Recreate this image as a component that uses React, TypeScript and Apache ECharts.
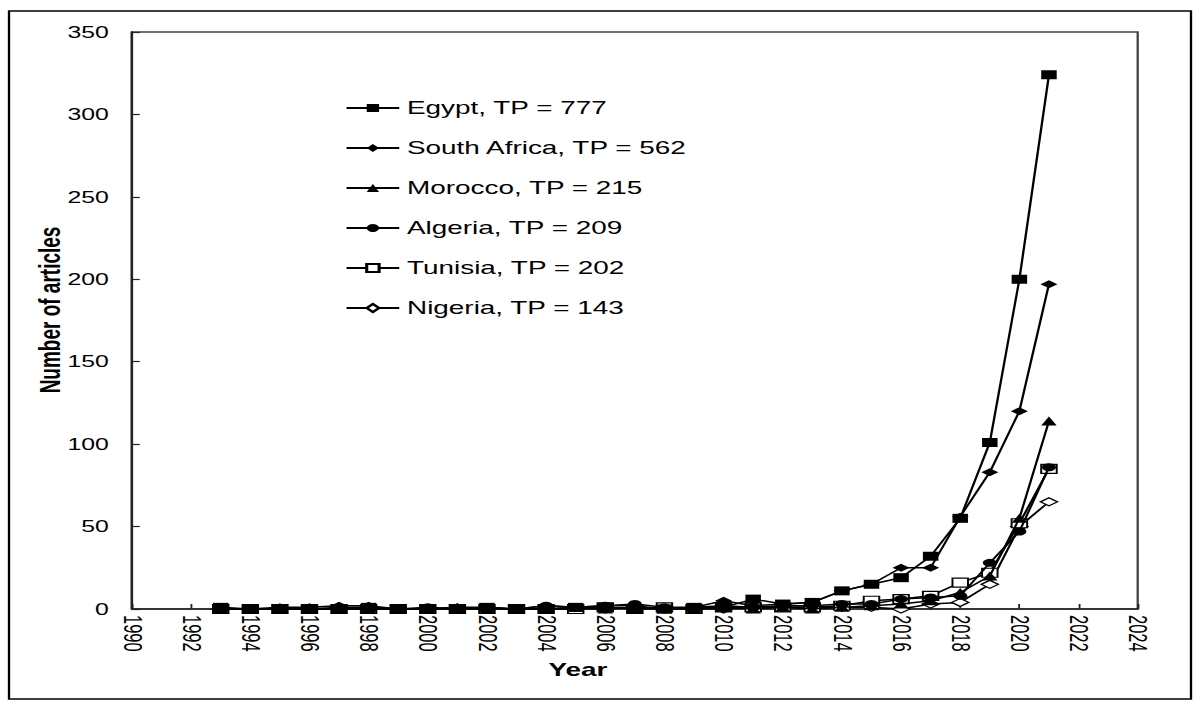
import React, { useEffect, useRef } from "react";
import * as echarts from "echarts";

const S = 1.55; // horizontal stretch of the original picture
const W = 1200 / S;
const H = 709;

const years = [1993, 1994, 1995, 1996, 1997, 1998, 1999, 2000, 2001, 2002, 2003, 2004, 2005, 2006, 2007, 2008, 2009, 2010, 2011, 2012, 2013, 2014, 2015, 2016, 2017, 2018, 2019, 2020, 2021];

const egypt = [1, 0, 0, 0, 0, 1, 0, 0, 0, 1, 0, 0, 1, 1, 0, 0, 1, 1, 6, 3, 4, 11, 15, 19, 32, 55, 101, 200, 324];
const southAfrica = [0, 0, 1, 1, 2, 2, 0, 0, 1, 1, 0, 2, 1, 2, 2, 0, 1, 5, 2, 3, 4, 11, 15, 25, 25, 56, 83, 120, 197];
const morocco = [0, 0, 0, 0, 0, 0, 0, 0, 1, 0, 0, 0, 1, 0, 1, 0, 0, 1, 0, 1, 0, 1, 2, 3, 5, 10, 20, 55, 114];
const algeria = [0, 0, 0, 0, 1, 1, 0, 1, 0, 1, 0, 2, 1, 2, 3, 1, 1, 2, 1, 2, 2, 3, 3, 6, 7, 8, 28, 47, 86];
const tunisia = [0, 0, 0, 0, 0, 0, 0, 0, 0, 0, 0, 0, 0, 1, 0, 1, 0, 1, 1, 1, 1, 2, 5, 6, 8, 16, 22, 52, 85];
const nigeria = [0, 0, 0, 0, 0, 0, 0, 0, 0, 0, 0, 0, 0, 0, 1, 0, 0, 0, 1, 1, 1, 1, 1, 0, 3, 4, 15, 50, 65];

const seriesNames = [
  "Egypt, TP = 777",
  "South Africa, TP = 562",
  "Morocco, TP = 215",
  "Algeria, TP = 209",
  "Tunisia, TP = 202",
  "Nigeria, TP = 143",
];
const seriesValues = [egypt, southAfrica, morocco, algeria, tunisia, nigeria];
const seriesSymbols = ["rect", "diamond", "triangle", "circle", "rect", "diamond"];
const seriesHollow = [false, false, false, false, true, true];
const symbolSizes: any[] = [[10, 9], [11, 8], [10, 9], [9, 8], [10, 9], [11, 8]];

const yTicks = [0, 50, 100, 150, 200, 250, 300, 350];

export default function App() {
  const ref = useRef<HTMLDivElement>(null);
  useEffect(() => {
    if (!ref.current) return;
    const chart = echarts.init(ref.current, null, { renderer: "svg" });
    const series = seriesNames.map((name, k) => ({
      name,
      type: "line",
      data: years.map((y, i) => [y, seriesValues[k][i]]),
      symbol: seriesSymbols[k],
      symbolSize: symbolSizes[k],
      showAllSymbol: true,
      lineStyle: { color: "#000", width: 1.5 },
      itemStyle: seriesHollow[k]
        ? { color: "#fff", borderColor: "#000", borderWidth: 1.2 }
        : { color: "#000", borderColor: "#000", borderWidth: 0 },
      emphasis: { disabled: true },
      z: 10 - k,
    }));
    chart.setOption({
      animation: false,
      backgroundColor: "#fff",
      textStyle: { fontFamily: "Liberation Sans, Arial, sans-serif" },
      grid: {
        left: 132 / S,
        right: W - 1138 / S,
        top: 32,
        bottom: H - 609,
        show: true,
        borderColor: "#444",
        borderWidth: 1.5,
        containLabel: false,
      },
      legend: {
        orient: "vertical",
        left: 345 / S,
        top: 98,
        padding: 0,
        itemWidth: 34,
        itemHeight: 10,
        itemGap: 20,
        textStyle: { fontSize: 18, color: "#000", lineHeight: 20, fontFamily: "Liberation Sans, Arial, sans-serif" },
        data: seriesNames,
      },
      xAxis: {
        type: "value",
        min: 1990,
        max: 2024,
        interval: 2,
        axisLine: { show: true, lineStyle: { color: "#222", width: 1.5 } },
        axisTick: { show: true, inside: true, length: 5, lineStyle: { color: "#222", width: 1.2 } },
        axisLabel: {
          rotate: -90,
          margin: 6,
          fontSize: 16.5,
          color: "#000",
          formatter: (v: number) => String(v),
        },
        splitLine: { show: false },
      },
      yAxis: {
        type: "value",
        min: 0,
        max: 350,
        interval: 50,
        axisLine: { show: true, lineStyle: { color: "#222", width: 1.5 } },
        axisTick: { show: true, inside: true, length: 5, lineStyle: { color: "#222", width: 1.2 } },
        axisLabel: { margin: 15, fontSize: 16, color: "#000", customValues: yTicks },
        splitLine: { show: false },
      },
      graphic: [
        {
          type: "rect",
          shape: { x: 9 / S, y: 11, width: 1182 / S, height: 688 },
          style: { fill: "none", stroke: "#000", lineWidth: 1.5 },
          silent: true,
        },
        {
          type: "text",
          x: 50 / S,
          y: 310,
          rotation: Math.PI / 2,
          style: {
            text: "Number of articles",
            fontSize: 19,
            fontWeight: "bold",
            fontFamily: "Liberation Sans Narrow, Liberation Sans, Arial, sans-serif",
            fill: "#000",
            align: "center",
            verticalAlign: "middle",
          },
        },
        {
          type: "text",
          x: 578 / S,
          y: 670,
          style: {
            text: "Year",
            fontSize: 18,
            fontWeight: "bold",
            fontFamily: "Liberation Sans Narrow, Liberation Sans, Arial, sans-serif",
            fill: "#000",
            align: "center",
            verticalAlign: "middle",
          },
        },
      ],
      series,
    });
    return () => chart.dispose();
  }, []);
  return (
    <div
      style={{
        position: "absolute",
        left: 0,
        top: 0,
        width: 1200,
        height: H,
        overflow: "hidden",
        background: "#fff",
      }}
    >
      <div
        ref={ref}
        style={{
          width: W,
          height: H,
          transform: `scaleX(${S})`,
          transformOrigin: "0 0",
        }}
      />
    </div>
  );
}
